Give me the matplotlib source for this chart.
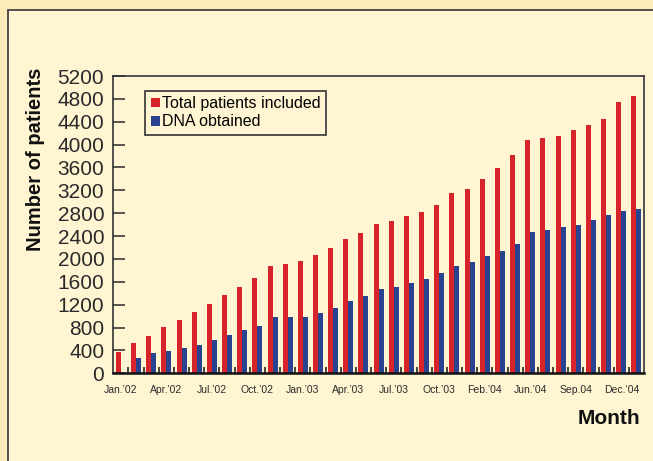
import matplotlib as mpl
import matplotlib.pyplot as plt
from matplotlib.patches import Rectangle
import numpy as np

mpl.use("Agg")

# monthly totals, Jan '02 onwards (35 bars)
total = [380, 536, 658, 811, 939, 1073, 1219, 1371, 1517, 1669, 1879, 1908,
         1972, 2071, 2194, 2351, 2462, 2620, 2667, 2754, 2819, 2947, 3152,
         3222, 3402, 3583, 3822, 4079, 4120, 4155, 4254, 4342, 4452, 4738, 4843]
dna = [0, 273, 355, 390, 443, 496, 583, 665, 753, 834, 980, 991,
       980, 1056, 1143, 1266, 1348, 1468, 1506, 1581, 1651, 1762, 1879,
       1954, 2059, 2136, 2264, 2474, 2509, 2556, 2602, 2684, 2771, 2847, 2865]
month_labels = ["Jan.’02", "Apr.’02", "Jul.’02", "Oct.’02", "Jan.’03", "Apr.’03",
                "Jul.’03", "Oct.’03", "Feb.’04", "Jun.’04", "Sep.04", "Dec.’04"]
yticks = list(range(0, 5201, 400))

bg_out = "#fcecb9"
bg_in = "#fff5d3"
red = "#d7242b"
blue = "#2a4391"
dark = "#2a2a2a"

narrow = ["Liberation Sans Narrow", "Liberation Sans", "DejaVu Sans"]
sans = ["Liberation Sans", "DejaVu Sans"]

fig = plt.figure(figsize=(6.53, 4.61), dpi=100, facecolor=bg_out)
fig.patches.append(Rectangle((8/653, -0.1), 1.1, 0.1 + (461-10.5)/461,
                             transform=fig.transFigure, facecolor=bg_in,
                             edgecolor="#444444", linewidth=1.3, zorder=-10))

ax = fig.add_axes([113.3/653, (461-373.3)/461, 530.7/653, 297.3/461])
ax.set_facecolor(bg_in)

x = np.arange(len(total))
w = 0.33
ax.bar(x - w/2, total, w, color=red, label="Total patients included")
ax.bar(x + w/2, dna, w, color=blue, label="DNA obtained")

ax.set_xlim(-0.5, len(total) - 0.5)
ax.set_ylim(0, 5200)

ax.set_yticks(yticks)
ax.set_yticklabels([str(v) for v in yticks], family=sans, fontsize=15, color=dark)
ax.tick_params(axis="y", direction="in", length=8.5, width=1.1, pad=6.5, color=dark)

ax.set_xticks(x[::3])
ax.set_xticklabels(month_labels, family=narrow, fontsize=7.5, color=dark)
ax.tick_params(axis="x", which="major", length=0, pad=8.5)
ax.set_xticks(np.arange(0.5, len(total) - 1, 1), minor=True)
ax.tick_params(axis="x", which="minor", direction="in", length=4.3, width=1.1, color="#111111")

for side in ["left", "right", "top"]:
    ax.spines[side].set_color("#333333")
    ax.spines[side].set_linewidth(1.2)
ax.spines["bottom"].set_color("#111111")
ax.spines["bottom"].set_linewidth(1.8)

leg = ax.legend(loc="upper left", bbox_to_anchor=(0.06, 0.951), borderaxespad=0,
                fancybox=False, edgecolor="#333333", facecolor=bg_in, framealpha=1,
                handlelength=0.55, handleheight=0.55, handletextpad=0.15,
                labelspacing=0.2, borderpad=0.35, prop={"family": sans, "size": 11.5})
leg.get_frame().set_linewidth(1.2)

fig.text(36/653, (461-159)/461, "Number of patients", rotation=90, ha="center",
         va="center", family=narrow, weight="bold", fontsize=14.5, color="#111111")
fig.text(640/653, (461-418)/461, "Month", ha="right", va="center",
         family=narrow, weight="bold", fontsize=15, color="#111111")

plt.savefig("out.png", dpi=100, facecolor=bg_out)
